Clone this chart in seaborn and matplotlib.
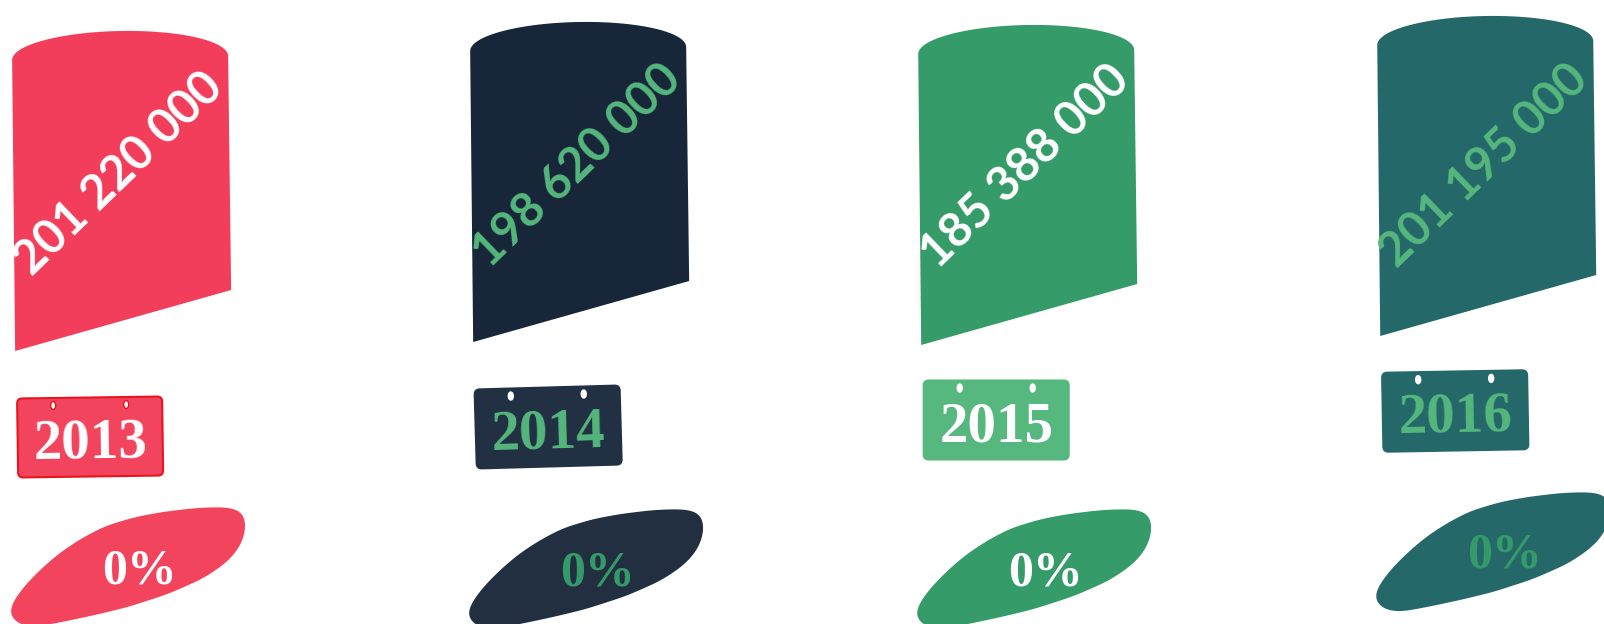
import numpy as np
import matplotlib
matplotlib.use("Agg")
import matplotlib.pyplot as plt
import matplotlib.transforms as mtransforms
from matplotlib.path import Path
from matplotlib.patches import PathPatch, FancyBboxPatch, Ellipse
import seaborn as sns

# ---------------- data ----------------
years = ["2013", "2014", "2015", "2016"]
values = [201220000, 198620000, 185388000, 201195000]
growth = ["0%", "0%", "0%", "0%"]

# ---------------- styles ----------------
bar_colors = ["#F23E5A", "#172638", "#359B69", "#25686A"]
value_text_colors = ["#FFFFFF", "#55B77D", "#FFFFFF", "#55B77D"]
plaque_colors = ["#F2455D", "#223043", "#56B87F", "#25686A"]
plaque_edges = ["#E8141E", "#223043", "#56B87F", "#25686A"]
hole_edges = ["#E8141E", "#FFFFFF", "#FFFFFF", "#FFFFFF"]
year_text_colors = ["#FFFFFF", "#55B77D", "#FFFFFF", "#55B77D"]
oval_colors = ["#F2455D", "#222F40", "#359B69", "#25686A"]
oval_text_colors = ["#FFFFFF", "#359A69", "#FFFFFF", "#359A69"]

# ---------------- layout (pixels) ----------------
col_dx = [0, 3, -4, 0]
bar_dy = [0, -9, -6, -15]
value_text_y = [174, 165, 166, 166]
plaque_y = [437, 427, 420, 411]
plaque_angle = [-0.8, -1.6, 0.0, -1.0]
oval_y = [613, 615, 615, 598]

sns.set_theme(style="white")
plt.rcParams["font.family"] = ["Lato", "DejaVu Sans"]

fig = plt.figure(figsize=(16.04, 6.24), dpi=100)
ax = fig.add_axes([0, 0, 1, 1])
ax.set_xlim(-0.264, 3.261)
ax.set_ylim(624, 0)
ax.axis("off")


def loc(i):
    """local pixel frame (y down) anchored at category i, top of axes."""
    return (mtransforms.Affine2D().scale(1, -1).translate(col_dx[i], 0)
            + mtransforms.ScaledTranslation(i, 0, ax.transData))


def smooth_outline(pts, step=0.5, sigma=8.0):
    P = np.asarray(pts, float)
    P = np.vstack([P, P[:1]])
    seg = np.hypot(*np.diff(P, axis=0).T)
    s = np.concatenate([[0], np.cumsum(seg)])
    ss = np.arange(0, s[-1], step)
    x = np.interp(ss, s, P[:, 0])
    y = np.interp(ss, s, P[:, 1])
    sig = sigma / step
    r = int(4 * sig)
    ker = np.exp(-0.5 * (np.arange(-r, r + 1) / sig) ** 2)
    ker /= ker.sum()
    xs = np.convolve(np.concatenate([x[-r:], x, x[:r]]), ker, mode="valid")
    ys = np.convolve(np.concatenate([y[-r:], y, y[:r]]), ker, mode="valid")
    return np.column_stack([xs, ys])


# tilted leaf-shaped oval outline, local frame relative to its left tip
oval_outline = [(-2, 1), (3, -12), (16, -29), (34, -47), (52, -62), (72, -75), (95, -87),
                (125, -96), (152, -101), (185, -105), (212, -106), (229, -104), (235, -98),
                (236, -85), (232, -70), (223, -57), (212, -47), (192, -34), (158, -19),
                (118, -6), (85, 2), (52, 9), (25, 14), (8, 12)]
oval_curve = smooth_outline(oval_outline)


def fmt(v):
    return f"{v:,}".replace(",", " ")


for i, yr in enumerate(years):
    T = loc(i)
    dy = bar_dy[i]

    # cylinder-like bar body
    xs = np.linspace(np.pi, 0, 60)
    top = np.column_stack([108 * np.cos(xs),
                           58 - 2 * np.cos(xs) - 27 * np.sin(xs)])
    body = np.vstack([[(-108, 60)], top, [(111, 290), (-105, 351)]])
    body[:, 1] += dy
    poly = PathPatch(Path(np.vstack([body, body[:1]]), closed=True),
                     facecolor=bar_colors[i], edgecolor="none", transform=T, zorder=2)
    ax.add_patch(poly)
    txt = ax.text(-1, value_text_y[i], fmt(values[i]), transform=T, rotation=44,
                  rotation_mode="anchor", ha="center", va="center",
                  fontsize=34, fontweight="bold", color=value_text_colors[i], zorder=3,
                  family=["Lato", "DejaVu Sans"])
    txt.set_clip_path(poly)

    # year plaque
    PT = mtransforms.Affine2D().rotate_deg(plaque_angle[i]).translate(-30, plaque_y[i]) + T
    plaque = FancyBboxPatch((-72.5, -39.5), 145, 79,
                            boxstyle="round,pad=0,rounding_size=5",
                            facecolor=plaque_colors[i], edgecolor=plaque_edges[i],
                            linewidth=1.5, transform=PT, zorder=2)
    ax.add_patch(plaque)
    for hx in (-36.5, 36.5):
        ax.add_patch(Ellipse((hx, -32), 5, 8, facecolor="white",
                             edgecolor=hole_edges[i], linewidth=1.0, transform=PT, zorder=3))
    ax.text(0, 7, yr, transform=PT, rotation=-plaque_angle[i], rotation_mode="anchor",
            ha="center", va="center", fontsize=41, fontweight="bold",
            color=year_text_colors[i], family=["Liberation Serif", "DejaVu Serif"], zorder=4)

    # growth oval
    OT = mtransforms.Affine2D().translate(-110, oval_y[i]) + T
    oval = PathPatch(Path(np.vstack([oval_curve, oval_curve[:1]]), closed=True),
                     facecolor=oval_colors[i], edgecolor="none", transform=OT, zorder=2)
    ax.add_patch(oval)
    ax.text(129, -42, growth[i], transform=OT, ha="center", va="center",
            fontsize=36, fontweight="bold", color=oval_text_colors[i],
            family=["Liberation Serif", "DejaVu Serif"], zorder=3)

fig.savefig("out.png", dpi=100, facecolor="white")
